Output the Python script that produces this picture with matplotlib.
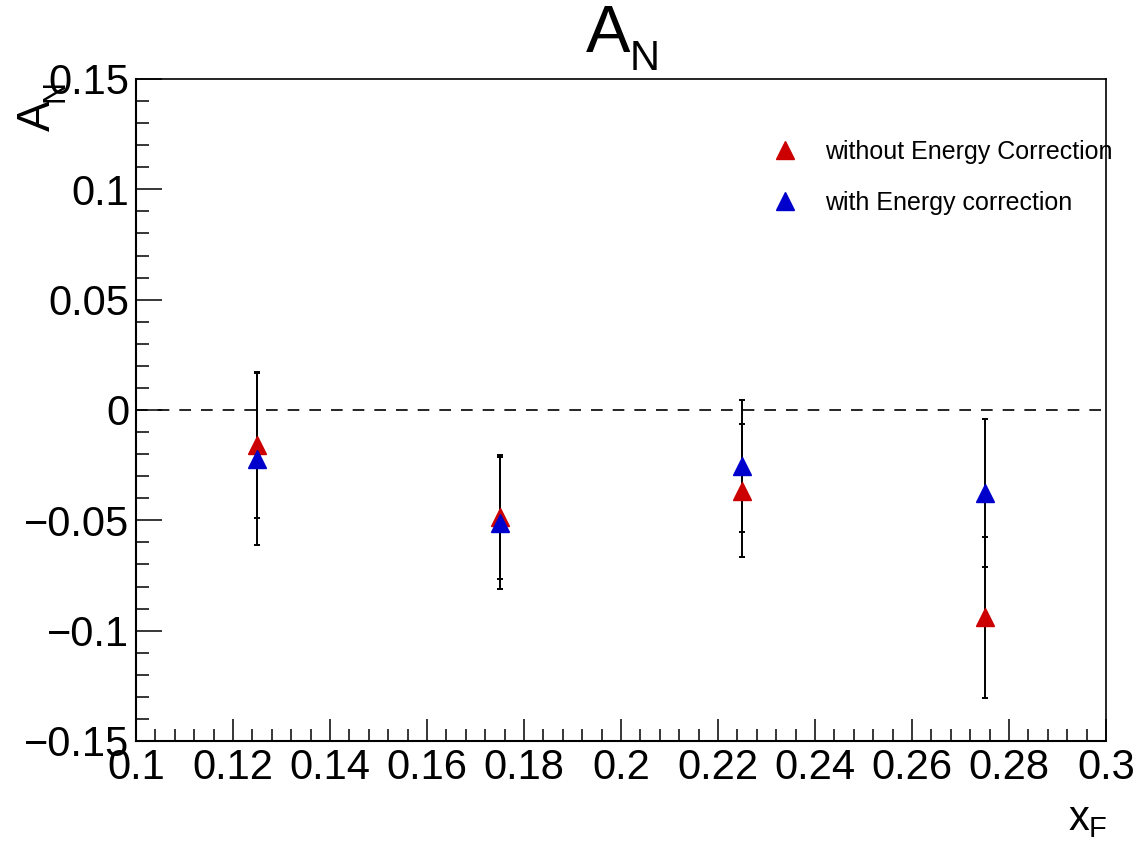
import matplotlib
matplotlib.use("Agg")
import matplotlib.pyplot as plt
from matplotlib.ticker import MultipleLocator, FormatStrFormatter

plt.rcParams['font.family'] = ['Liberation Sans', 'DejaVu Sans']

# x_F bin centres
xf = [0.125, 0.175, 0.225, 0.275]

# A_N without energy correction
an_raw = [-0.0160, -0.0485, -0.0365, -0.0940]
err_raw = [0.0330, 0.0280, 0.0300, 0.0365]

# A_N with energy correction
an_corr = [-0.0222, -0.0512, -0.0254, -0.0376]
err_corr = [0.0390, 0.0300, 0.0300, 0.0335]

labels = ["without Energy Correction", "with Energy correction"]
red = "#cc0000"
blue = "#0000cc"

W, H = 1138, 843
fig = plt.figure(figsize=(W / 100, H / 100), dpi=100)
ax = fig.add_axes([136 / W, 1 - 741 / H, (1106 - 136) / W, (741 - 79) / H])

ax.axhline(0, color="black", lw=1.2, dashes=(7, 6), zorder=1)

# error bars first, markers on top
ax.errorbar(xf, an_raw, yerr=err_raw, fmt="none", ecolor="black",
            elinewidth=1.4, capsize=2, capthick=1.4, zorder=2)
ax.errorbar(xf, an_corr, yerr=err_corr, fmt="none", ecolor="black",
            elinewidth=1.4, capsize=2, capthick=1.4, zorder=2)
ax.plot(xf, an_raw, ls="none", marker="^", ms=13, color=red, mec=red,
        label=labels[0], zorder=3)
ax.plot(xf, an_corr, ls="none", marker="^", ms=13, color=blue, mec=blue,
        label=labels[1], zorder=4)

ax.set_xlim(0.1, 0.3)
ax.set_ylim(-0.15, 0.15)

ax.xaxis.set_major_locator(MultipleLocator(0.02))
ax.xaxis.set_minor_locator(MultipleLocator(0.004))
ax.yaxis.set_major_locator(MultipleLocator(0.05))
ax.yaxis.set_minor_locator(MultipleLocator(0.01))
ax.xaxis.set_major_formatter(FormatStrFormatter('%g'))
ax.yaxis.set_major_formatter(plt.FuncFormatter(
    lambda v, p: "0" if abs(v) < 1e-9 else ("%g" % v).replace("-", "\u2212")))

ax.tick_params(axis="both", which="both", direction="in", top=False, right=False,
               labelsize=30, width=1.1)
ax.tick_params(axis="x", which="major", length=16, pad=5)
ax.tick_params(axis="x", which="minor", length=8.5)
ax.tick_params(axis="y", which="major", length=19, pad=5)
ax.tick_params(axis="y", which="minor", length=9.5)

for s in ax.spines.values():
    s.set_linewidth(1.2)
ax.spines["left"].set_linewidth(1.5)
ax.spines["bottom"].set_linewidth(1.5)

ax.legend(loc="upper left", bbox_to_anchor=(760 / W, 1 - 140 / H),
          bbox_transform=fig.transFigure, frameon=False, fontsize=18,
          borderpad=0, borderaxespad=0, labelspacing=1.08, handletextpad=0.62,
          handlelength=2.0)

# title A_N (ROOT style: upright subscript sitting low)
fig.text(630 / W, 1 - 52 / H, "A", fontsize=48, ha="right", va="baseline")
fig.text(630 / W, 1 - 70 / H, "N", fontsize=30, ha="left", va="baseline")

# x axis title x_F, right aligned at axis end
fig.text(1089 / W, 1 - 830 / H, "x", fontsize=30, ha="right", va="baseline")
fig.text(1089 / W, 1 - 843 / H, "F", fontsize=21, ha="left", va="bottom")

# y axis title A_N, rotated, ending at the top of the axis
fig.text(50 / W, 1 - 100 / H, "A", fontsize=33, rotation=90,
         ha="right", va="baseline", rotation_mode="anchor")
fig.text(63 / W, 1 - 80 / H, "N", fontsize=22, rotation=90,
         ha="right", va="baseline", rotation_mode="anchor")

fig.savefig("out.png", dpi=100, facecolor="white")
